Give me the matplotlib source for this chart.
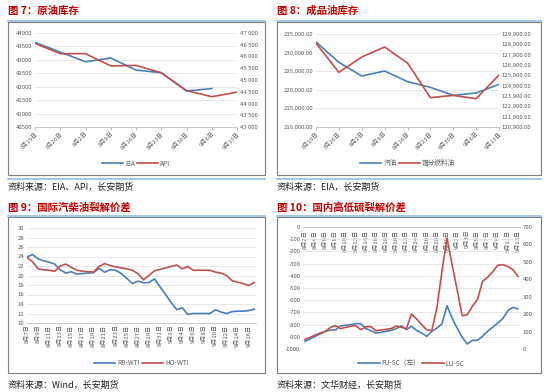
import matplotlib
matplotlib.use("Agg")
import matplotlib.pyplot as plt
from matplotlib.patches import Rectangle
from matplotlib.lines import Line2D
from matplotlib.ticker import FuncFormatter

plt.rcParams['font.family'] = ['Noto Sans CJK SC', 'DejaVu Sans']
plt.rcParams['axes.unicode_minus'] = False

BLUE = '#4A7EBB'
RED = '#C0504D'
GRAY = '#595959'
GRID = '#E3E3E3'
TITLE_RED = '#C00000'
LINE_BLUE = '#9DC3E6'

# 图7 原油库存
crude_dates = ['7月19日', '7月26日', '8月2日', '8月9日', '8月16日', '8月23日', '8月30日', '9月6日', '9月13日']
eia = [43650, 43290, 42930, 43070, 42620, 42520, 41840, 41930]
api = [46560, 46120, 46120, 45600, 45620, 45310, 44550, 44290, 44480]

# 图8 成品油库存
prod_dates = crude_dates
gasoline = [232850, 227380, 223710, 225050, 222190, 220660, 218510, 219140, 221470]
distillate = [129000, 126190, 127670, 128640, 127090, 123740, 123960, 123640, 125930]

# 图9 国际汽柴油裂解价差 (8月7日 - 9月17日)
crack_dates = [f'8月{d}日' for d in range(7, 32)] + [f'9月{d}日' for d in range(1, 18)]
rb_wti = [23.9, 24.4, 23.5, 23.1, 22.8, 22.4, 21.2, 20.5, 20.8, 20.3, 20.4, 20.5, 20.6, 21.5,
          20.7, 21.2, 21.1, 20.4, 19.4, 18.3, 18.8, 18.5, 18.5, 19.3, 17.6, 16.0, 14.3, 12.8,
          13.2, 11.8, 12.0, 12.0, 12.0, 12.0, 12.8, 12.3, 12.0, 12.4, 12.5, 12.5, 12.6, 12.9]
ho_wti = [23.8, 22.9, 21.4, 21.2, 21.1, 20.9, 22.0, 22.4, 21.7, 21.1, 20.9, 20.8, 20.7, 21.9,
          22.5, 22.1, 21.8, 21.6, 21.4, 21.1, 20.4, 19.1, 20.0, 21.0, 21.3, 21.6, 21.9, 22.2,
          21.4, 21.9, 21.1, 21.1, 21.1, 21.1, 20.7, 20.5, 20.0, 18.9, 18.6, 18.3, 17.9, 18.5]

# 图10 国内高低硫裂解价差 (8月2日 - 9月13日)
sulfur_dates = [f'8月{d}日' for d in range(2, 32)] + [f'9月{d}日' for d in range(1, 14)]
fu_sc = [-937, -918, -896, -877, -855, -844, -844, -811, -806, -800, -792, -792, -833, -850,
         -869, -863, -855, -847, -833, -809, -842, -814, -847, -869, -896, -855, -828, -795,
         -645, -746, -828, -904, -959, -929, -929, -896, -855, -822, -787, -751, -686, -658, -672]
lu_sc = [54, 67, 80, 92, 101, 124, 134, 117, 124, 130, 134, 111, 128, 128, 105, 109, 113, 117,
         132, 124, 117, 201, 172, 140, 111, 105, 235, 445, 637, 484, 340, 191, 197, 245, 283,
         388, 411, 442, 480, 484, 474, 455, 417]

fig = plt.figure(figsize=(5.5, 3.92), dpi=100)
W, H = 550.0, 392.0


def box(x0, y0, x1, y1):
    return [x0 / W, 1 - y1 / H, (x1 - x0) / W, (y1 - y0) / H]


def frame(x0, y0, x1, y1, title, source, bottom_line):
    fig.text(x0 / W, 1 - 11 / H if y0 < 100 else 1 - 208 / H, title, color=TITLE_RED,
             fontsize=7.5, fontweight='bold', va='center', ha='left')
    fig.add_artist(Line2D([x0 / W, x1 / W], [1 - y0 / H, 1 - y0 / H], color=LINE_BLUE, lw=1.3))
    fig.add_artist(Rectangle((x0 / W, 1 - y1 / H), (x1 - x0) / W, (y1 - y0 - 1) / H,
                             fill=False, edgecolor='#7F7F7F', lw=0.8))
    if bottom_line:
        fig.add_artist(Line2D([x0 / W, x1 / W], [1 - (y1 + 4) / H, 1 - (y1 + 4) / H],
                              color=LINE_BLUE, lw=1.3))
    fig.text(x0 / W, 1 - (y1 + 12) / H, source, fontsize=6.5, color='#222222', va='center')


def style(ax, ax2=None):
    for a in [ax] + ([ax2] if ax2 is not None else []):
        for s in a.spines.values():
            s.set_visible(False)
        a.tick_params(axis='y', length=0, labelsize=4.3, labelcolor=GRAY, pad=2)
    ax.tick_params(axis='x', labelsize=4.3, labelcolor=GRAY, length=2, color='#BFBFBF', pad=1)
    ax.grid(axis='y', color=GRID, lw=0.6)
    ax.set_axisbelow(True)
    ax.spines['bottom'].set_visible(True)
    ax.spines['bottom'].set_color('#BFBFBF')
    ax.spines['bottom'].set_linewidth(0.6)


def legend(ax, handles, labels, y):
    ax.legend(handles, labels, loc='center', bbox_to_anchor=(0.5, y), ncol=2, frameon=False,
              fontsize=4.8, handlelength=3.2, columnspacing=0.3, handletextpad=0.3,
              labelcolor=GRAY)


# ---- 图7
frame(8, 21, 265, 175, '图 7：原油库存', '资料来源：EIA、API，长安期货', True)
ax = fig.add_axes(box(35, 33, 237, 127))
ax2 = ax.twinx()
x = range(len(crude_dates))
l1, = ax.plot(range(len(eia)), eia, color=BLUE, lw=1.2)
l2, = ax2.plot(x, api, color=RED, lw=1.2)
ax.set_ylim(40500, 44000)
ax.set_yticks(range(40500, 44001, 500))
ax2.set_ylim(43000, 47000)
ax2.set_yticks(range(43000, 47001, 500))
ax2.yaxis.set_major_formatter(FuncFormatter(lambda v, p: f'{int(v):,}'.replace(',', ' ')))
ax.set_xlim(0, 8)
ax.set_xticks(list(x))
ax.set_xticklabels(crude_dates, rotation=45, ha='right', rotation_mode='anchor')
style(ax, ax2)
legend(ax, [l1, l2], ['EIA', 'API'], -0.39)

# ---- 图8
frame(277, 21, 541, 175, '图 8：成品油库存', '资料来源：EIA，长安期货', True)
ax = fig.add_axes(box(316, 34, 499, 127))
ax2 = ax.twinx()
x = range(len(prod_dates))
l1, = ax.plot(x, gasoline, color=BLUE, lw=1.2)
l2, = ax2.plot(x, distillate, color=RED, lw=1.2)
ax.set_ylim(210000, 235000)
ax.set_yticks(range(210000, 235001, 5000))
ax.yaxis.set_major_formatter(FuncFormatter(lambda v, p: f'{v:,.2f}'))
ax2.set_ylim(120900, 129900)
ax2.set_yticks(range(120900, 129901, 1000))
ax2.yaxis.set_major_formatter(FuncFormatter(lambda v, p: f'{v:,.2f}'))
ax.set_xlim(0, 8)
ax.set_xticks(list(x))
ax.set_xticklabels(prod_dates, rotation=45, ha='right', rotation_mode='anchor')
style(ax, ax2)
legend(ax, [l1, l2], ['汽油', '馏分燃料油'], -0.39)

# ---- 图9
frame(8, 216, 265, 373, '图 9：国际汽柴油裂解价差', '资料来源：Wind，长安期货', False)
ax = fig.add_axes(box(27, 228, 256, 323))
x = range(len(crack_dates))
l1, = ax.plot(x, rb_wti, color=BLUE, lw=1.2)
l2, = ax.plot(x, ho_wti, color=RED, lw=1.2)
ax.set_ylim(10, 30)
ax.set_yticks(range(10, 31, 2))
ax.set_xlim(0, 41.3)
ax.set_xticks(list(x)[::2])
ax.set_xticklabels(crack_dates[::2], rotation=90, fontsize=4.3)
style(ax)
ax.tick_params(axis='x', length=0)
legend(ax, [l1, l2], ['RB-WTI', 'HO-WTI'], -0.42)

# ---- 图10
frame(277, 216, 541, 373, '图 10：国内高低硫裂解价差', '资料来源：文华财经，长安期货', False)
ax = fig.add_axes(box(303, 227, 520, 349))
ax2 = ax.twinx()
x = range(len(sulfur_dates))
l1, = ax.plot(x, fu_sc, color=BLUE, lw=1.2)
l2, = ax2.plot(x, lu_sc, color=RED, lw=1.2)
ax.set_ylim(-1000, 0)
ax.set_yticks(range(-1000, 1, 100))
ax2.set_ylim(0, 700)
ax2.set_yticks(range(0, 701, 100))
ax.set_xlim(-0.4, 42.4)
ax.set_xticks(list(x)[::2])
ax.set_xticklabels(sulfur_dates[::2], rotation=90)
style(ax, ax2)
ax.spines['bottom'].set_visible(False)
ax.spines['top'].set_visible(True)
ax.spines['top'].set_color('#BFBFBF')
ax.spines['top'].set_linewidth(0.6)
ax.tick_params(axis='x', bottom=False, labelbottom=False, top=True, labeltop=True,
               length=0, pad=-2)
for lab in ax.get_xticklabels():
    lab.set_va('top')
legend(ax, [l1, l2], ['FU-SC（左）', 'LU-SC'], -0.12)

fig.savefig('out.png', dpi=100)
